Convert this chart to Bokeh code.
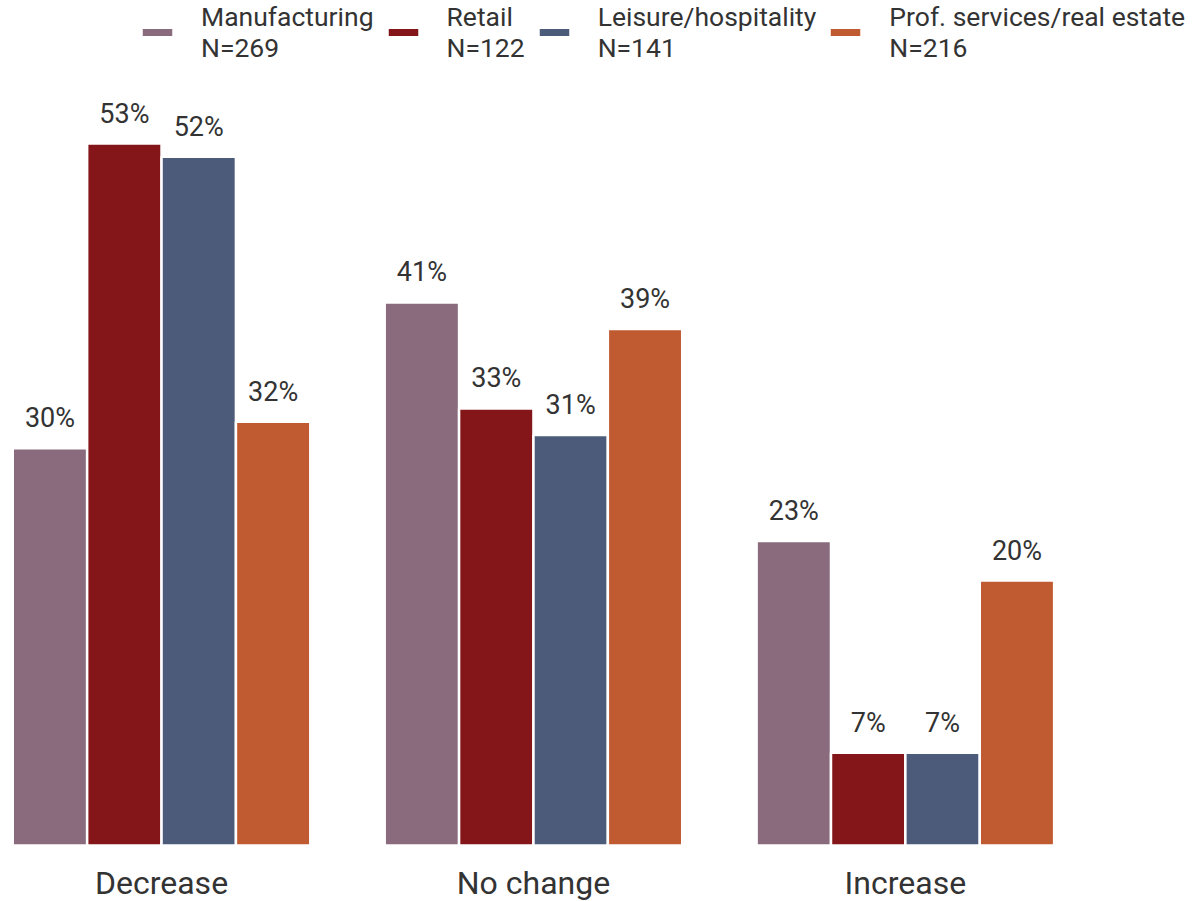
from bokeh.plotting import figure
from bokeh.models import ColumnDataSource, Legend, LegendItem, Range1d
from bokeh.core.properties import value
from bokeh.embed import file_html
from bokeh.resources import INLINE

categories = ["Decrease", "No change", "Increase"]
series = ["Manufacturing\nN=269", "Retail\nN=122", "Leisure/hospitality\nN=141",
          "Prof. services/real estate\nN=216"]
manufacturing = [30, 41, 23]
retail = [53, 33, 7]
leisure = [52, 31, 7]
prof_services = [32, 39, 20]
colors = ["#8a6b7d", "#841519", "#4b5b79", "#c05a31"]

FONT = "Roboto"
TEXT_COLOR = "#333333"

# frame fills the whole canvas; the value axis runs below zero to leave room
# for the category names under the bars
p = figure(width=1192, height=901, output_backend="svg", toolbar_location=None,
           x_range=Range1d(-0.433, 2.772), y_range=Range1d(-4.228, 63.8),
           min_border=0, outline_line_color=None)

group_x = list(range(len(categories)))
offsets = [-0.3, -0.1, 0.1, 0.3]
items = []
for vals, name, color, off in zip([manufacturing, retail, leisure, prof_services],
                                  series, colors, offsets):
    src = ColumnDataSource(dict(x=[g + off for g in group_x], top=vals,
                                lbl=[f"{v}%" for v in vals]))
    r = p.vbar(x="x", top="top", width=0.2, bottom=0, source=src,
               fill_color=color, line_color="white", line_width=2.5)
    p.text(x="x", y="top", text="lbl", source=src, text_align="center",
           text_baseline="middle", y_offset=-30, text_font=value(FONT),
           text_font_size="27px", text_color=TEXT_COLOR)
    items.append(LegendItem(label=name, renderers=[r]))

# category names under each group
cat_src = ColumnDataSource(dict(x=group_x, y=[0] * len(categories), name=categories))
p.text(x="x", y="y", text="name", source=cat_src, text_align="center",
       text_baseline="middle", y_offset=37, text_font=value(FONT),
       text_font_size="32px", text_color=TEXT_COLOR)

legend = Legend(items=items, orientation="horizontal", location=(137, 838),
                label_text_font=FONT, label_text_font_size="26.5px",
                label_text_color=TEXT_COLOR, glyph_width=40, glyph_height=12,
                label_standoff=24, spacing=9, padding=0, margin=0,
                border_line_color=None, background_fill_alpha=0)
p.add_layout(legend, "center")

p.xaxis.visible = False
p.yaxis.visible = False
p.xgrid.grid_line_color = None
p.ygrid.grid_line_color = None

open("out.html", "w").write(file_html(p, INLINE))
